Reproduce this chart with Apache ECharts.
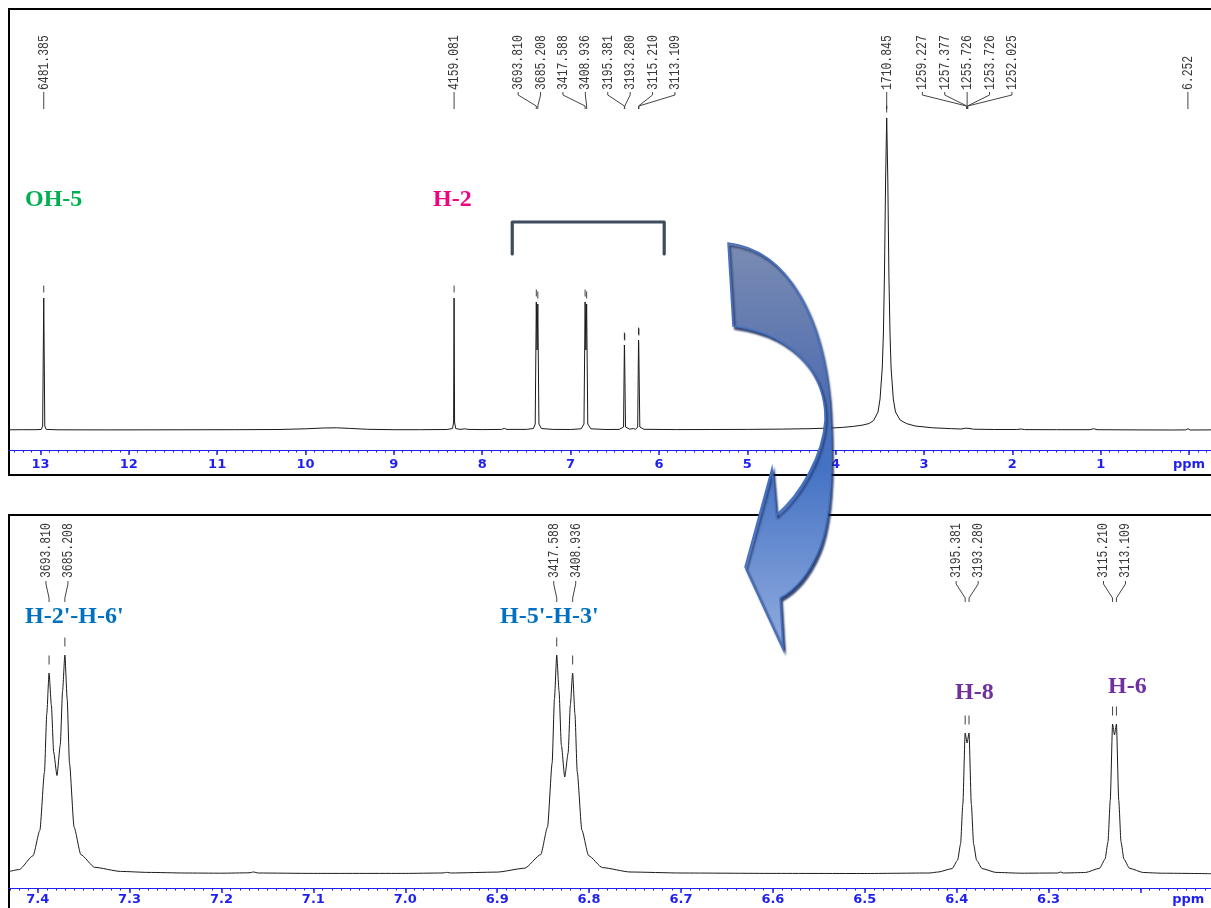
<!DOCTYPE html>
<html>
<head>
<meta charset="utf-8">
<script src="https://cdn.jsdelivr.net/npm/echarts@6/dist/echarts.min.js"></script>
<style>
  html, body { margin: 0; padding: 0; background: #fff; }
  #chart { width: 1211px; height: 908px; }
</style>
</head>
<body>
<div id="chart"></div>
<script>
// Spectrometer frequency (MHz): peak labels are in Hz, the axes in ppm.
const SF = 500;

// Full spectrum: [ppm, intensity]
const fullSpectrum = [
  [13.356, 0.2], [13.2, 0.3], [13.05, 0.3], [12.99, 0.6], [12.975, 4], [12.9628, 132], [12.951, 4],
  [12.935, 0.6], [12.8, 0.2], [12.2, 0.1], [11.5, 0.2], [10.8, 0.3], [10.3, 0.5], [10.0, 1.2],
  [9.8, 2.0], [9.65, 2.2], [9.5, 1.6], [9.3, 0.7], [9.0, 0.3], [8.7, 0.3], [8.4, 0.5], [8.335, 1.5],
  [8.3236, 8], [8.3182, 132], [8.3128, 8], [8.30, 1.5], [8.25, 0.6], [8.19, 1.2], [8.16, 0.6],
  [8.0, 0.4], [7.78, 0.6], [7.75, 1.6], [7.72, 0.6], [7.5, 0.6], [7.42, 1.5], [7.40, 6],
  [7.3876, 128], [7.379, 80], [7.3704, 126], [7.358, 6], [7.33, 1.5], [7.2, 0.6], [7.0, 0.5],
  [6.88, 1.2], [6.848, 6], [6.8352, 128], [6.8265, 80], [6.8179, 126], [6.805, 6], [6.77, 1.2],
  [6.6, 0.5], [6.45, 0.6], [6.40, 3], [6.3908, 85], [6.3887, 82], [6.3866, 84], [6.378, 3],
  [6.33, 0.8], [6.29, 1.5], [6.265, 0.6], [6.24, 3], [6.2304, 90], [6.2283, 87], [6.2262, 89],
  [6.216, 3], [6.17, 0.7], [5.8, 0.4], [5.4, 0.5], [5.0, 0.6], [4.6, 0.9], [4.3, 1.3], [4.05, 2.0],
  [3.92, 2.6], [3.80, 3.6], [3.70, 4.8], [3.62, 6.5], [3.57, 9.5], [3.52, 18], [3.497, 31],
  [3.472, 62], [3.459, 96], [3.447, 156], [3.434, 250], [3.4217, 312], [3.409, 250], [3.397, 156],
  [3.384, 96], [3.372, 62], [3.347, 31], [3.322, 18], [3.27, 10], [3.2, 6.5], [3.1, 4], [2.9, 2.2],
  [2.7, 1.4], [2.58, 1.0], [2.53, 1.8], [2.5115, 3], [2.49, 1.6], [2.44, 0.8], [2.2, 0.5],
  [1.95, 0.5], [1.90, 1.0], [1.86, 0.4], [1.5, 0.3], [1.12, 0.3], [1.08, 1.3], [1.04, 0.3],
  [0.6, 0.1], [0.2, 0], [0.04, 0.1], [0.0125, 1.2], [-0.015, 0], [-0.249, 0.1]
];

// Picked peaks drawn with a tick above them (full spectrum)
const fullPicks = [
  [12.9628, 132], [8.3182, 132], [7.3876, 128], [7.3704, 126], [6.8352, 128], [6.8179, 126],
  [6.3908, 85], [6.3866, 84], [6.2304, 90], [6.2262, 89], [3.4217, 312]
];

// Expanded aromatic region: [ppm, intensity]
const zoomSpectrum = [
  [7.431, 2.5], [7.42, 4.5], [7.405, 18.3], [7.3976, 43.7], [7.3926, 102], [7.3901, 160],
  [7.3876, 201], [7.3851, 169], [7.3826, 122], [7.379, 98.5], [7.3754, 129], [7.3729, 183],
  [7.3704, 219], [7.3679, 175], [7.3654, 111], [7.3604, 47], [7.353, 19.4], [7.338, 6.7],
  [7.31, 2.6], [7.28, 1.6], [7.24, 1.0], [7.2, 0.8], [7.17, 1.2], [7.165, 2.0], [7.16, 1.0],
  [7.1, 0.6], [7.0, 0.6], [6.96, 1.0], [6.955, 1.6], [6.95, 1.0], [6.90, 1.9], [6.87, 5.8],
  [6.8526, 19.4], [6.8452, 47], [6.8402, 111], [6.8377, 175], [6.8352, 219], [6.8327, 183],
  [6.8302, 129], [6.8265, 97], [6.8228, 121], [6.8204, 169], [6.8179, 201], [6.8154, 160],
  [6.8129, 102], [6.8079, 44], [6.8005, 18.3], [6.7855, 6.4], [6.7555, 2.0], [6.70, 1.0],
  [6.6, 0.6], [6.5, 0.5], [6.43, 1.0], [6.42, 2.0], [6.405, 5.4], [6.399, 13.9], [6.3958, 30],
  [6.3933, 70], [6.3908, 141], [6.3887, 131], [6.3866, 141], [6.3841, 70], [6.3816, 30],
  [6.3784, 13.9], [6.3724, 5.4], [6.3574, 1.6], [6.33, 0.8], [6.29, 1.0], [6.287, 2.0],
  [6.284, 1.0], [6.26, 1.5], [6.2446, 5.7], [6.2386, 14.8], [6.2354, 32], [6.2329, 74],
  [6.2304, 150], [6.2283, 139], [6.2262, 150], [6.2237, 74], [6.2212, 32], [6.218, 14.8],
  [6.212, 5.7], [6.197, 1.5], [6.177, 0.8], [6.123, 0.3]
];

const zoomPicks = [
  [7.3876, 201], [7.3704, 219], [6.8352, 219], [6.8179, 201],
  [6.3908, 141], [6.3866, 141], [6.2304, 150], [6.2262, 150]
];

// Peak labels in Hz, grouped by the multiplet they annotate
const fullPeakGroups = [
  [6481.385],
  [4159.081],
  [3693.810, 3685.208, 3417.588, 3408.936, 3195.381, 3193.280, 3115.210, 3113.109],
  [1710.845],
  [1259.227, 1257.377, 1255.726, 1253.726, 1252.025],
  [6.252]
];
const zoomPeakGroups = [
  [3693.810, 3685.208],
  [3417.588, 3408.936],
  [3195.381, 3193.280],
  [3115.210, 3113.109]
];

// Axis ticks
const fullTicks = [13, 12, 11, 10, 9, 8, 7, 6, 5, 4, 3, 2, 1, 0];
const zoomTicks = [7.4, 7.3, 7.2, 7.1, 7.0, 6.9, 6.8, 6.7, 6.6, 6.5, 6.4, 6.3, 6.2];
const zoomTickLabels = [7.4, 7.3, 7.2, 7.1, 7.0, 6.9, 6.8, 6.7, 6.6, 6.5, 6.4, 6.3];
const FULL_RANGE = [-0.249, 13.356];
const ZOOM_RANGE = [6.1233, 7.4312];
const zoomUnitPos = 6.148; // where "ppm" sits on the expanded axis

// Assignment labels
const assignments = [
  { text: 'OH-5', color: '#00b050' },
  { text: 'H-2', color: '#f0047f' },
  { text: "H-2'-H-6'", color: '#0070c0' },
  { text: "H-5'-H-3'", color: '#0070c0' },
  { text: 'H-8', color: '#7030a0' },
  { text: 'H-6', color: '#7030a0' }
];
const assignmentPos = [[25, 200], [433, 200], [25, 617], [500, 617], [955, 693], [1108, 687]];

// Bracket over the aromatic region of the full spectrum (ppm span, intensity levels)
const bracketSpan = [7.66, 5.94];
const bracketLevels = [176, 208];

// Outline of the curved arrow leading from the full spectrum to the expansion
const arrowPath =
  'M 728 243 C 790 250 822 320 829 400 C 833 460 832 520 818 552 C 808 575 795 590 780 598 ' +
  'L 783 649 L 745 567 L 772 468 L 776 515 C 800 495 823 455 825 420 C 826 380 800 335 733 326 Z';

const AXIS_BLUE = '#1f1ff0';
const LINE_COLOR = '#1a1a1a';

const fullMinor = [];
for (let i = -2; i <= 133; i++) fullMinor.push(i / 10);
const zoomMinor = [];
for (let i = 613; i <= 743; i++) zoomMinor.push(i / 100);

function flattenGroups(groups) {
  const out = [];
  groups.forEach(g => {
    const mean = g.reduce((s, hz) => s + hz / SF, 0) / g.length;
    g.forEach((hz, i) => out.push({ value: [hz / SF, 0, mean, i, g.length], text: hz.toFixed(3) }));
  });
  return out;
}

function labelSeries(xAxisIndex, yAxisIndex, groups, lay) {
  const items = flattenGroups(groups);
  return {
    type: 'custom',
    xAxisIndex, yAxisIndex,
    clip: false,
    silent: true,
    encode: { x: 0, y: 1 },
    data: items.map(d => d.value),
    renderItem(params, api) {
      const cs = params.coordSys;
      const ppm = api.value(0), mean = api.value(2), idx = api.value(3), n = api.value(4);
      const peakX = api.coord([ppm, 0])[0];
      const centerX = api.coord([mean, 0])[0];
      const labelX = n === 1 ? peakX : centerX + (idx - (n - 1) / 2) * lay.spacing;
      const y0 = cs.y;
      return {
        type: 'group',
        children: [
          {
            type: 'text', x: labelX, y: y0 + lay.textBase, rotation: Math.PI / 2,
            scaleX: lay.scaleX,
            style: {
              text: items[params.dataIndex].text, fontFamily: 'Liberation Mono',
              fontSize: lay.fontSize, fill: '#383838', align: 'left', verticalAlign: 'middle'
            }
          },
          {
            type: 'polyline',
            shape: { points: [[labelX, y0 + lay.l0], [labelX, y0 + lay.l1], [peakX, y0 + lay.l2], [peakX, y0 + lay.l3]] },
            style: { stroke: '#444', lineWidth: 1, fill: null }
          }
        ]
      };
    }
  };
}

function mainAxis(gridIndex, range, ticks, labels, fmt, margin) {
  return {
    gridIndex, type: 'value', inverse: true, min: range[0], max: range[1], position: 'bottom',
    splitLine: { show: false },
    axisLine: { show: true, onZero: false, lineStyle: { color: AXIS_BLUE, width: 1 } },
    axisTick: { show: true, customValues: ticks, length: 5, lineStyle: { color: AXIS_BLUE, width: 1.5 } },
    axisLabel: {
      show: true, customValues: labels, formatter: fmt, margin,
      color: AXIS_BLUE, fontFamily: 'DejaVu Sans', fontWeight: 'bold', fontSize: 13
    }
  };
}
function minorAxis(gridIndex, range, ticks) {
  return {
    gridIndex, type: 'value', inverse: true, min: range[0], max: range[1], position: 'bottom',
    splitLine: { show: false },
    axisLine: { show: false, onZero: false },
    axisTick: { show: true, customValues: ticks, length: 2.5, lineStyle: { color: AXIS_BLUE, width: 1 } },
    axisLabel: { show: false }
  };
}

const chart = echarts.init(document.getElementById('chart'), null, { renderer: 'canvas' });

const option = {
  animation: false,
  backgroundColor: '#ffffff',
  grid: [
    { left: 9, right: 0, top: 10, height: 440 },
    { left: 9, right: 0, top: 516, height: 372 }
  ],
  xAxis: [
    mainAxis(0, FULL_RANGE, fullTicks, fullTicks, v => (v === 0 ? 'ppm' : String(v)), 8),
    minorAxis(0, FULL_RANGE, fullMinor),
    mainAxis(1, ZOOM_RANGE, zoomTicks, zoomTickLabels.concat([zoomUnitPos]),
      v => (v < 6.25 ? 'ppm' : v.toFixed(1)), 5),
    minorAxis(1, ZOOM_RANGE, zoomMinor)
  ],
  yAxis: [
    { gridIndex: 0, type: 'value', min: -20, max: 420, show: false },
    { gridIndex: 1, type: 'value', min: -14, max: 358, show: false }
  ],
  series: [
    {
      type: 'line', xAxisIndex: 0, yAxisIndex: 0, data: fullSpectrum, showSymbol: false,
      sampling: null, lineStyle: { color: LINE_COLOR, width: 1 }, silent: true
    },
    {
      type: 'scatter', xAxisIndex: 0, yAxisIndex: 0, data: fullPicks, symbol: 'rect',
      symbolSize: [1, 7], symbolOffset: [0, -9], itemStyle: { color: '#111' }, silent: true
    },
    labelSeries(0, 0, fullPeakGroups, { spacing: 22.4, textBase: 80, fontSize: 15, scaleX: 0.76, l0: 82, l1: 85, l2: 96, l3: 99 }),
    {
      type: 'line', xAxisIndex: 2, yAxisIndex: 1, data: zoomSpectrum, showSymbol: false,
      smooth: 0.2, smoothMonotone: 'x',
      sampling: null, lineStyle: { color: LINE_COLOR, width: 1 }, silent: true
    },
    {
      type: 'scatter', xAxisIndex: 2, yAxisIndex: 1, data: zoomPicks, symbol: 'rect',
      symbolSize: [1, 9], symbolOffset: [0, -13], itemStyle: { color: '#111' }, silent: true
    },
    labelSeries(2, 1, zoomPeakGroups, { spacing: 22, textBase: 62, fontSize: 15, scaleX: 0.76, l0: 65, l1: 68, l2: 82, l3: 86 }),
    {
      // curved arrow drawn over both panels
      type: 'custom', coordinateSystem: 'none', silent: true, z: 20, data: [0],
      renderItem() {
        return {
          type: 'path',
          shape: { pathData: arrowPath },
          style: {
            fill: {
              type: 'linear', x: 0, y: 0, x2: 0, y2: 1,
              colorStops: [
                { offset: 0, color: '#7a8cb2' },
                { offset: 0.35, color: '#5470b0' },
                { offset: 0.55, color: '#4472c4' },
                { offset: 1, color: '#93addf' }
              ]
            },
            stroke: '#4472c4', lineWidth: 1.5,
            shadowColor: 'rgba(25,45,95,0.9)', shadowBlur: 2, shadowOffsetX: 2, shadowOffsetY: 3
          }
        };
      }
    }
  ]
};
chart.setOption(option);

// Overlay: frames, bracket and assignment labels
const bx0 = chart.convertToPixel({ xAxisIndex: 0 }, bracketSpan[0]);
const bx1 = chart.convertToPixel({ xAxisIndex: 0 }, bracketSpan[1]);
const byLow = chart.convertToPixel({ yAxisIndex: 0 }, bracketLevels[0]);
const byTop = chart.convertToPixel({ yAxisIndex: 0 }, bracketLevels[1]);

const graphics = [
  { type: 'rect', shape: { x: 9, y: 9, width: 1210, height: 466 }, style: { fill: null, stroke: '#000', lineWidth: 2 }, z: 0 },
  { type: 'rect', shape: { x: 9, y: 515, width: 1210, height: 420 }, style: { fill: null, stroke: '#000', lineWidth: 2 }, z: 0 },
  {
    type: 'polyline', z: 0,
    shape: { points: [[bx0, byLow], [bx0, byTop], [bx1, byTop], [bx1, byLow]] },
    style: { stroke: '#3d4b5c', lineWidth: 3.2, fill: null, lineJoin: 'round', lineCap: 'round' }
  }
];
assignments.forEach((a, i) => {
  graphics.push({
    type: 'text', x: assignmentPos[i][0], y: assignmentPos[i][1], z: 0,
    style: {
      text: a.text, fill: a.color, fontFamily: 'Liberation Serif', fontWeight: 'bold',
      fontSize: 24, align: 'left', verticalAlign: 'middle'
    }
  });
});
chart.setOption({ graphic: graphics });
</script>
</body>
</html>
